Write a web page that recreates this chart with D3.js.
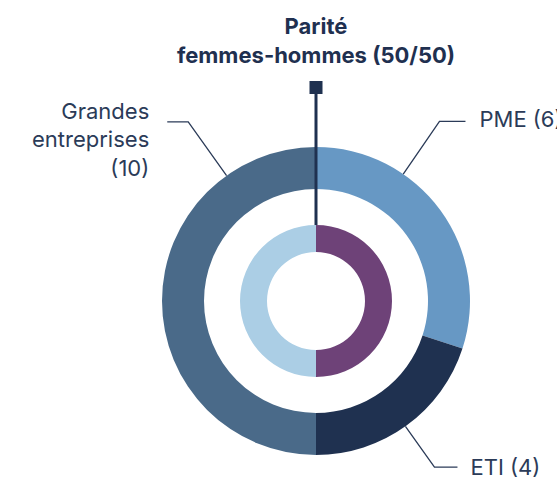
<!DOCTYPE html>
<html>
<head>
<meta charset="utf-8">
<script src="https://cdn.jsdelivr.net/npm/d3@7"></script>
<style>
  body { margin: 0; background: #fff; }
  svg text { font-family: Inter, Roboto, sans-serif; }
</style>
</head>
<body>
<div id="chart"></div>
<script>
// Data
var categories = ['PME', 'ETI', 'Grandes entreprises'];
var counts = [6, 4, 10];
var labelLines = [['PME (6)'], ['ETI (4)'], ['Grandes', 'entreprises', '(10)']];
var genders = ['Femmes', 'Hommes'];
var parity = [50, 50];
var title = ['Parité', 'femmes-hommes (50/50)'];

// Set-up
var width = 557, height = 477;
var cx = 316, cy = 301;
var outerColors = ['#6798c4', '#1f3150', '#4a6a89'];
var innerColors = ['#6e4278', '#abcee5'];
var textColor = '#2b3b58';

// where the leader lines leave the ring (degrees, clockwise from top)
var labelLayout = [
  {angle: 34.5, elbow: 218, dir: 1, hLen: 26, gap: 14, dy: 6},
  {angle: 144.5, elbow: 204, dir: 1, hLen: 23, gap: 13, dy: 8},
  {angle: 324.5, elbow: 220, dir: -1, hLen: 21, gap: 18, dy: -3}
];

var svg = d3.select('#chart').append('svg')
  .attr('width', width)
  .attr('height', height);

var g = svg.append('g').attr('transform', 'translate(' + cx + ',' + cy + ')');

var pie = d3.pie().sort(null).value(function(d) { return d; });

var outerArc = d3.arc().innerRadius(112).outerRadius(154);
var innerArc = d3.arc().innerRadius(49).outerRadius(76);

g.selectAll('.outer')
  .data(pie(counts))
  .enter().append('path')
  .attr('class', 'outer')
  .attr('d', outerArc)
  .style('fill', function(d, i) { return outerColors[i]; });

g.selectAll('.inner')
  .data(pie(parity))
  .enter().append('path')
  .attr('class', 'inner')
  .attr('d', innerArc)
  .style('fill', function(d, i) { return innerColors[i]; });

// parity marker
g.append('line')
  .attr('x1', 0).attr('x2', 0)
  .attr('y1', -207).attr('y2', -76)
  .style('stroke', '#1f3150')
  .style('stroke-width', 3);
g.append('rect')
  .attr('x', -6.5).attr('y', -220)
  .attr('width', 13).attr('height', 13)
  .style('fill', '#1f3150');

// title
svg.append('text')
  .attr('x', cx)
  .attr('text-anchor', 'middle')
  .style('fill', '#1f3050')
  .style('font-weight', 'bold')
  .style('font-size', '22px')
  .selectAll('tspan')
  .data(title)
  .enter().append('tspan')
  .attr('x', cx)
  .attr('y', function(d, i) { return 34 + i * 29; })
  .text(function(d) { return d; });

// leader lines + labels
function polar(angleDeg, r) {
  var a = angleDeg * Math.PI / 180;
  return [Math.sin(a) * r, -Math.cos(a) * r];
}

labelLayout.forEach(function(l, i) {
  var p0 = polar(l.angle, 154);
  var p1 = polar(l.angle, l.elbow);
  var p2 = [p1[0] + l.dir * l.hLen, p1[1]];
  g.append('polyline')
    .attr('points', [p0, p1, p2].map(function(p) { return p.join(','); }).join(' '))
    .style('fill', 'none')
    .style('stroke', '#2b3b58')
    .style('stroke-width', 1.3);

  var lines = labelLines[i];
  var tx = p2[0] + l.dir * l.gap;
  var t = g.append('text')
    .attr('text-anchor', l.dir > 0 ? 'start' : 'end')
    .style('fill', textColor)
    .style('font-size', '22px')
    .style('font-weight', 400);
  t.selectAll('tspan')
    .data(lines)
    .enter().append('tspan')
    .attr('x', tx)
    .attr('y', function(d, j) { return p2[1] + l.dy + j * 28.5; })
    .text(function(d) { return d; });
});
</script>
</body>
</html>
